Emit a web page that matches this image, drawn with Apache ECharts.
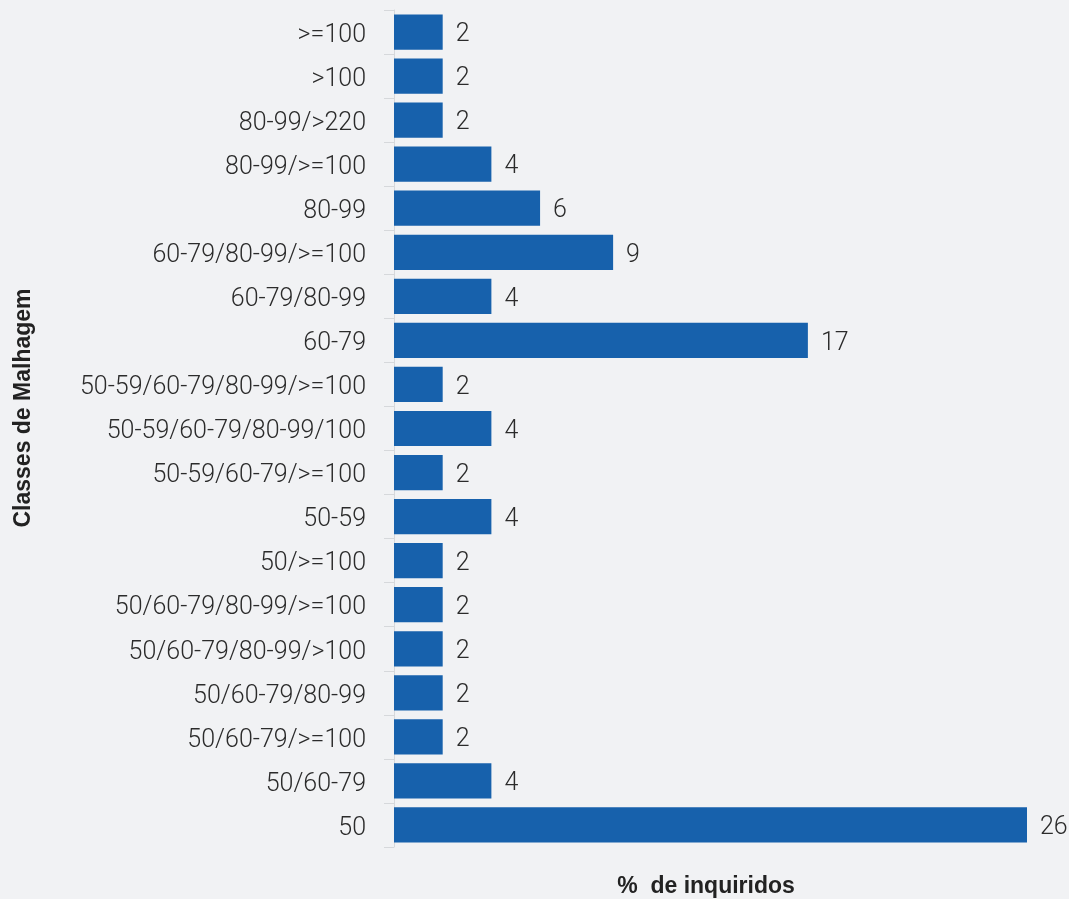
<!DOCTYPE html>
<html>
<head>
<meta charset="utf-8">
<script src="https://cdn.jsdelivr.net/npm/echarts@6/dist/echarts.min.js"></script>
<style>
  html, body { margin: 0; padding: 0; background: #f1f2f4; }
  #chart { width: 1069px; height: 899px; }
</style>
</head>
<body>
<div id="chart"></div>
<script>
// Mesh-size classes, listed top to bottom
const categories = [
  '>=100', '>100', '80-99/>220', '80-99/>=100', '80-99',
  '60-79/80-99/>=100', '60-79/80-99', '60-79',
  '50-59/60-79/80-99/>=100', '50-59/60-79/80-99/100', '50-59/60-79/>=100',
  '50-59', '50/>=100', '50/60-79/80-99/>=100', '50/60-79/80-99/>100',
  '50/60-79/80-99', '50/60-79/>=100', '50/60-79', '50'
];
// Share of respondents (%)
const percentages = [2, 2, 2, 4, 6, 9, 4, 17, 2, 4, 2, 4, 2, 2, 2, 2, 2, 4, 26];

const yTitle = 'Classes de Malhagem';
const xTitle = '%  de inquiridos';

const chart = echarts.init(document.getElementById('chart'), null, { renderer: 'canvas' });

const titleFont = 'bold 23px "Liberation Sans", Arial, sans-serif';
const labelText = {
  color: '#2b2b2b',
  fontFamily: 'Roboto',
  fontWeight: 300,
  fontSize: 25
};

chart.setOption({
  backgroundColor: '#f1f2f4',
  animation: false,
  grid: { left: 394, right: 42, top: 10, bottom: 52, containLabel: false },
  xAxis: {
    type: 'value',
    min: 0,
    max: 26,
    show: false
  },
  yAxis: {
    type: 'category',
    data: categories,
    inverse: true,
    axisLine: { show: true, lineStyle: { color: '#d6d8db', width: 1 } },
    axisTick: { show: true, length: 10, lineStyle: { color: '#d6d8db', width: 1 } },
    axisLabel: {
      margin: 28,
      formatter: (v) => '{c|' + v + '}',
      rich: {
        c: Object.assign({ padding: [7, 0, 0, 0] }, labelText)
      }
    }
  },
  series: [{
    type: 'bar',
    data: percentages,
    barWidth: '80%',
    itemStyle: { color: '#1761ac' },
    label: Object.assign({
      show: true,
      position: 'right',
      distance: 13,
      offset: [0, 3]
    }, labelText)
  }],
  graphic: [
    {
      type: 'text',
      x: 24,
      y: 408,
      rotation: Math.PI / 2,
      style: {
        text: yTitle,
        fill: '#222',
        font: titleFont,
        align: 'center',
        verticalAlign: 'middle'
      }
    },
    {
      type: 'text',
      x: 706,
      y: 887,
      style: {
        text: xTitle,
        fill: '#222',
        font: titleFont,
        align: 'center',
        verticalAlign: 'middle'
      }
    }
  ]
});
</script>
</body>
</html>
